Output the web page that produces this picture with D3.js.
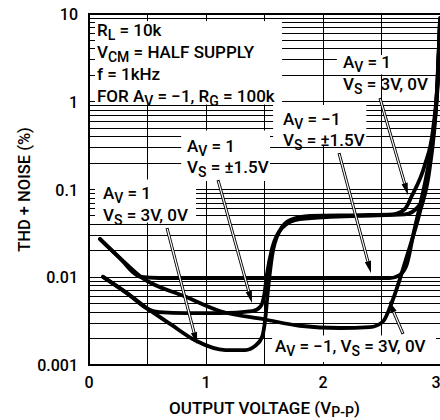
<!DOCTYPE html>
<html>
<head>
<meta charset="utf-8">
<script src="https://cdn.jsdelivr.net/npm/d3@7"></script>
<style>
  body { margin: 0; background: #fff; }
  svg { display: block; font-family: Roboto, "Liberation Sans", sans-serif; font-weight: 500; }
  text { white-space: pre; fill: #000; }
</style>
</head>
<body>
<svg id="chart" width="440" height="420"></svg>
<script>
// THD + noise (%) against output amplitude (V p-p), four operating conditions

// Av = -1, Vs = ±1.5V
const avNeg1DualVolts = [0.094, 0.255, 0.443, 0.6, 0.95, 1.8, 2.57, 2.655, 2.715, 2.78, 2.826, 2.885, 2.936, 2.98, 3.0];
const avNeg1DualThd   = [0.0273, 0.017, 0.0101, 0.0098, 0.0098, 0.0098, 0.0098, 0.0106, 0.0138, 0.0345, 0.063, 0.146, 0.366, 1.77, 8.5];

// Av = -1, Vs = 3V, 0V
const avNeg1SingleVolts = [0.094, 0.255, 0.443, 0.826, 1.123, 1.506, 1.8, 2.145, 2.4, 2.51, 2.596, 2.715, 2.826, 2.91, 2.97, 3.0];
const avNeg1SingleThd   = [0.0273, 0.017, 0.0101, 0.006, 0.0041, 0.0033, 0.0028, 0.00264, 0.0027, 0.0031, 0.0055, 0.017, 0.054, 0.167, 1.05, 8];

// Av = 1, Vs = ±1.5V
const avPos1DualVolts = [0.12, 0.33, 0.51, 0.6, 0.826, 1.123, 1.396, 1.464, 1.498, 1.52, 1.566, 1.65, 1.8, 2.3, 2.7, 2.826, 2.894, 2.945, 2.987, 3.0];
const avPos1DualThd   = [0.0101, 0.0065, 0.0043, 0.004, 0.0039, 0.0039, 0.0041, 0.0046, 0.0063, 0.0106, 0.0215, 0.0364, 0.046, 0.05, 0.052, 0.0666, 0.146, 0.476, 2.3, 9];

// Av = 1, Vs = 3V, 0V
const avPos1SingleVolts = [0.12, 0.33, 0.51, 0.7, 0.91, 1.166, 1.336, 1.42, 1.48, 1.506, 1.53, 1.566, 1.634, 1.72, 1.89, 2.315, 2.596, 2.7, 2.76, 2.87, 2.94, 2.98, 3.0];
const avPos1SingleThd   = [0.0101, 0.0065, 0.0043, 0.0029, 0.0019, 0.00148, 0.00148, 0.00165, 0.0021, 0.0033, 0.0072, 0.018, 0.0345, 0.045, 0.05, 0.051, 0.052, 0.06, 0.085, 0.19, 0.48, 1.8, 8];

// Axis ticks
const xTickValues = [0, 1, 2, 3];
const xGridValues = [0, 0.5, 1, 1.5, 2, 2.5, 3];
const yTickValues = [0.001, 0.01, 0.1, 1, 10];
const yTickLabels = ["0.001", "0.01", "0.1", "1", "10"];

const svg = d3.select("#chart");
const plotLeft = 89, plotRight = 440, plotTop = 14, plotBottom = 365;

const x = d3.scaleLinear().domain([0, 3]).range([plotLeft, plotRight]);
const y = d3.scaleLog().domain([0.001, 10]).range([plotBottom, plotTop]);

// minor values 1..9 of every decade
const yGridValues = [];
[0.001, 0.01, 0.1, 1].forEach(d => { for (let k = 1; k <= 9; k++) yGridValues.push(+(k * d).toPrecision(3)); });
yGridValues.push(10);

svg.append("defs").append("clipPath").attr("id", "plotClip")
  .append("rect").attr("x", plotLeft).attr("y", plotTop).attr("width", plotRight - plotLeft + 10).attr("height", plotBottom - plotTop);

// grid
const grid = svg.append("g");
grid.selectAll("line.h").data(yGridValues).join("line")
  .attr("x1", plotLeft).attr("x2", plotRight + 5)
  .attr("y1", d => y(d)).attr("y2", d => y(d))
  .attr("stroke", "#000").attr("stroke-width", 1).attr("shape-rendering", "crispEdges");
grid.selectAll("line.v").data(xGridValues).join("line")
  .attr("x1", d => x(d)).attr("x2", d => x(d))
  .attr("y1", plotTop).attr("y2", plotBottom)
  .attr("stroke", "#000").attr("stroke-width", 1).attr("shape-rendering", "crispEdges");

// white label panels (in data units: volts, %)
const panels = [
  { v0: 0,     v1: 1.65,  t0: 0.93,   t1: 8.3 },
  { v0: 2.11,  v1: 2.98,  t0: 2.05,  t1: 3.4 },
  { v0: 1.565, v1: 2.37,  t0: 0.32,  t1: 0.92 },
  { v0: 0.779, v1: 1.547, t0: 0.125, t1: 0.47 },
  { v0: 0,     v1: 0.915, t0: 0.042, t1: 0.13 },
  { v0: 1.556, v1: 2.966, t0: 0.00108, t1: 0.00217 }
];
svg.append("g").selectAll("rect").data(panels).join("rect")
  .attr("x", d => x(d.v0) + 1).attr("y", d => y(d.t1))
  .attr("width", d => x(d.v1) - x(d.v0) - 1).attr("height", d => y(d.t0) - y(d.t1))
  .attr("fill", "#fff");

// curves
const series = [
  { v: avNeg1DualVolts, t: avNeg1DualThd },
  { v: avNeg1SingleVolts, t: avNeg1SingleThd },
  { v: avPos1DualVolts, t: avPos1DualThd },
  { v: avPos1SingleVolts, t: avPos1SingleThd }
];
const line = d3.line().x(d => x(d[0])).y(d => y(d[1])).curve(d3.curveMonotoneX);
svg.append("g").attr("clip-path", "url(#plotClip)")
  .selectAll("path").data(series).join("path")
  .attr("d", s => line(s.v.map((v, i) => [v, s.t[i]])))
  .attr("fill", "none").attr("stroke", "#000").attr("stroke-width", 3.8)
  .attr("stroke-linejoin", "round").attr("stroke-linecap", "round");

// callout arrows (start -> tip, data units)
const arrows = [
  { v0: 0.667, t0: 0.0364, v1: 0.923, t1: 0.00173 },
  { v0: 1.103, t0: 0.128,  v1: 1.393, t1: 0.0051 },
  { v0: 2.137, t0: 0.26,   v1: 2.41,  t1: 0.0112 },
  { v0: 2.487, t0: 1.1,    v1: 2.726, t1: 0.0866 },
  { v0: 2.684, t0: 0.00226, v1: 2.564, t1: 0.00536 }
];
const ag = svg.append("g");
arrows.forEach(a => {
  const x0 = x(a.v0), y0 = y(a.t0), x1 = x(a.v1), y1 = y(a.t1);
  const len = Math.hypot(x1 - x0, y1 - y0);
  const ux = (x1 - x0) / len, uy = (y1 - y0) / len;
  const hl = 12, hw = 3.2;
  const bx = x1 - ux * hl, by = y1 - uy * hl;
  ag.append("line").attr("x1", x0).attr("y1", y0).attr("x2", bx).attr("y2", by)
    .attr("stroke", "#000").attr("stroke-width", 3);
  ag.append("line").attr("x1", x0 + ux * 1).attr("y1", y0 + uy * 1).attr("x2", bx).attr("y2", by)
    .attr("stroke", "#fff").attr("stroke-width", 1.2);
  ag.append("path")
    .attr("d", `M${x1},${y1} L${bx - uy * hw},${by + ux * hw} L${bx + uy * hw},${by - ux * hw} Z`)
    .attr("fill", "#000");
});

// rich text helper: parts are [text, isSubscript]
function rich(g, px, py, parts, anchor, shift) {
  const dy = shift || 4;
  const t = g.append("text").attr("x", px).attr("y", py).attr("font-size", 17)
    .attr("text-anchor", anchor || "start");
  let shifted = false;
  parts.forEach(([s, sub]) => {
    const ts = t.append("tspan").text(s);
    if (sub && !shifted) { ts.attr("font-size", 14).attr("dy", dy); shifted = true; }
    else if (!sub && shifted) { ts.attr("dy", -dy); shifted = false; }
    else if (sub) ts.attr("font-size", 14);
  });
  return t;
}

const labels = svg.append("g");
rich(labels, 97, 36, [["R"], ["L", 1], [" = 10k"]]);
rich(labels, 97, 58, [["V"], ["CM", 1], [" = HALF SUPPLY"]]);
rich(labels, 97, 80, [["f = 1kHz"]]);
rich(labels, 97, 102, [["FOR A"], ["V", 1], [" = \u22121, R"], ["G", 1], [" = 100k"]]);

rich(labels, 343, 68, [["A"], ["V", 1], [" = 1"]]);
rich(labels, 343, 90, [["V"], ["S", 1], [" = 3V, 0V"]]);

rich(labels, 283, 125, [["A"], ["V", 1], [" = \u22121"]]);
rich(labels, 283, 146, [["V"], ["S", 1], [" = \u00b11.5V"]]);

rich(labels, 187, 152, [["A"], ["V", 1], [" = 1"]]);
rich(labels, 187, 173, [["V"], ["S", 1], [" = \u00b11.5V"]]);

rich(labels, 103, 199, [["A"], ["V", 1], [" = 1"]]);
rich(labels, 103, 221, [["V"], ["S", 1], [" = 3V, 0V"]]);

rich(labels, 275, 352, [["A"], ["V", 1], [" = \u22121, V"], ["S", 1], [" = 3V, 0V"]]);

// ticks inside the frame
const ticks = svg.append("g").attr("stroke", "#000").attr("stroke-width", 1).attr("shape-rendering", "crispEdges");
ticks.selectAll("line.l").data(yGridValues).join("line")
  .attr("x1", plotLeft).attr("x2", plotLeft + 6).attr("y1", d => y(d)).attr("y2", d => y(d));
ticks.selectAll("line.t").data(xGridValues).join("line")
  .attr("x1", d => x(d)).attr("x2", d => x(d)).attr("y1", plotTop).attr("y2", plotTop + 5);

// frame
svg.append("rect").attr("x", plotLeft).attr("y", plotTop).attr("width", plotRight - plotLeft + 2).attr("height", plotBottom - plotTop)
  .attr("fill", "none").attr("stroke", "#000").attr("stroke-width", 2);

// tick labels
svg.append("g").selectAll("text").data(yTickValues).join("text")
  .attr("x", 78).attr("y", d => y(d) + 6).attr("text-anchor", "end").attr("font-size", 16)
  .text((d, i) => yTickLabels[i]);
svg.append("g").selectAll("text").data(xTickValues).join("text")
  .attr("x", d => Math.min(x(d), 436)).attr("y", 388).attr("text-anchor", "middle").attr("font-size", 16)
  .text(d => d);

// axis titles
rich(svg, (plotLeft + plotRight) / 2, 414, [["OUTPUT VOLTAGE (V"], ["P-P", 1], [")"]], "middle", 3);
svg.append("text").attr("transform", `translate(30,${(plotTop + plotBottom) / 2}) rotate(-90)`)
  .attr("text-anchor", "middle").attr("font-size", 16.5).text("THD + NOISE (%)");
</script>
</body>
</html>
